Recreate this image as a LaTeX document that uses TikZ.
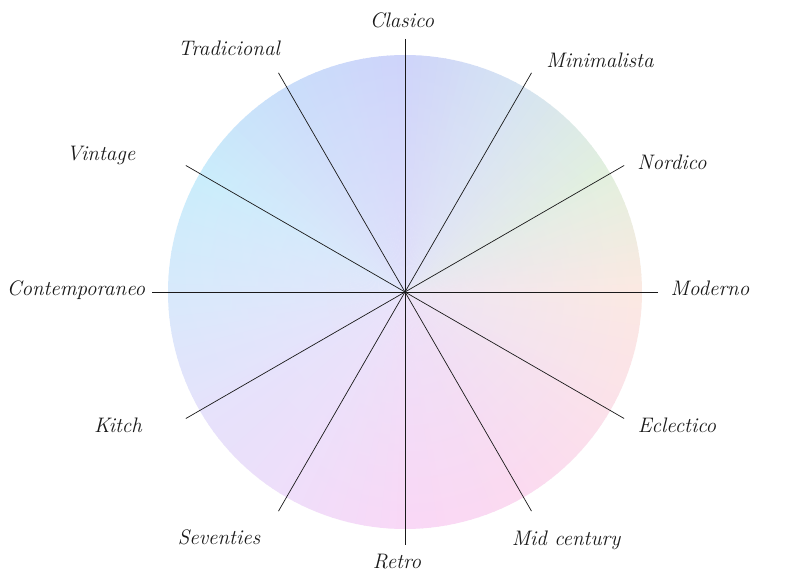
\documentclass[tikz,border=0pt]{standalone}
\usetikzlibrary{fadings}
\definecolor{c0}{RGB}{252,234,226}
\definecolor{c1}{RGB}{226,241,222}
\definecolor{c2}{RGB}{214,228,242}
\definecolor{c3}{RGB}{206,212,250}
\definecolor{c4}{RGB}{202,222,250}
\definecolor{c5}{RGB}{202,238,252}
\definecolor{c6}{RGB}{216,234,252}
\definecolor{c7}{RGB}{230,226,252}
\definecolor{c8}{RGB}{240,222,250}
\definecolor{c9}{RGB}{250,216,246}
\definecolor{c10}{RGB}{252,218,240}
\definecolor{c11}{RGB}{252,226,234}
\definecolor{centercol}{RGB}{232,228,250}
\definecolor{inkcol}{RGB}{25,25,25}
\tikzfading[name=centerfade, inner color=transparent!25, outer color=transparent!100]
\tikzset{
  spoke/.style={draw=inkcol, line width=0.7pt},
  lbl/.style={text=inkcol, font=\fontsize{21}{24}\selectfont\itshape, inner sep=0pt}
}
\begin{document}
\begin{tikzpicture}[x=1pt,y=1pt]
\useasboundingbox (-405,-286) rectangle (383,292);
\fill[white] (-405,-286) rectangle (383,292);
\coordinate (o) at (0,0);
% conic gradient disc
\foreach \a/\ca/\cb in {0/c0/c1,30/c1/c2,60/c2/c3,90/c3/c4,120/c4/c5,150/c5/c6,180/c6/c7,210/c7/c8,240/c8/c9,270/c9/c10,300/c10/c11,330/c11/c0}{
  \foreach \j in {0,...,14}{
    \pgfmathtruncatemacro\p{100-\j*100/15}
    \pgfmathsetmacro\ang{\a+2*\j}
    \colorlet{wcol}{\ca!\p!\cb}
    \fill[wcol] (o) -- (\ang:237) arc[start angle=\ang, end angle=\ang+2.3, radius=237] -- cycle;
  }
}
\fill[centercol, path fading=centerfade] (o) circle[radius=237];
% spoke ends
\foreach \i in {0,...,11}{
  \coordinate (e\i) at (\i*30:253);
}
\foreach \i in {0,...,5}{
  \pgfmathtruncatemacro\k{\i+6}
  \draw[spoke] (e\i) -- (e\k);
}
% labels
\node[lbl] (clasico) at (-3,272) {Clasico};
\node[lbl] (tradicional) at (-176,244) {Tradicional};
\node[lbl] (minimalista) at (195,232) {Minimalista};
\node[lbl] (vintage) at (-304,137) {Vintage};
\node[lbl] (nordico) at (267,130) {Nordico};
\node[lbl] (contemporaneo) at (-329,2) {Contemporaneo};
\node[lbl] (moderno) at (305,4) {Moderno};
\node[lbl] (kitch) at (-287,-133) {Kitch};
\node[lbl] (eclectico) at (272,-133) {Eclectico};
\node[lbl] (seventies) at (-186,-245) {Seventies};
\node[lbl] (retro) at (-8,-270) {Retro};
\node[lbl] (midcentury) at (161,-248) {Mid century};
\end{tikzpicture}
\end{document}
